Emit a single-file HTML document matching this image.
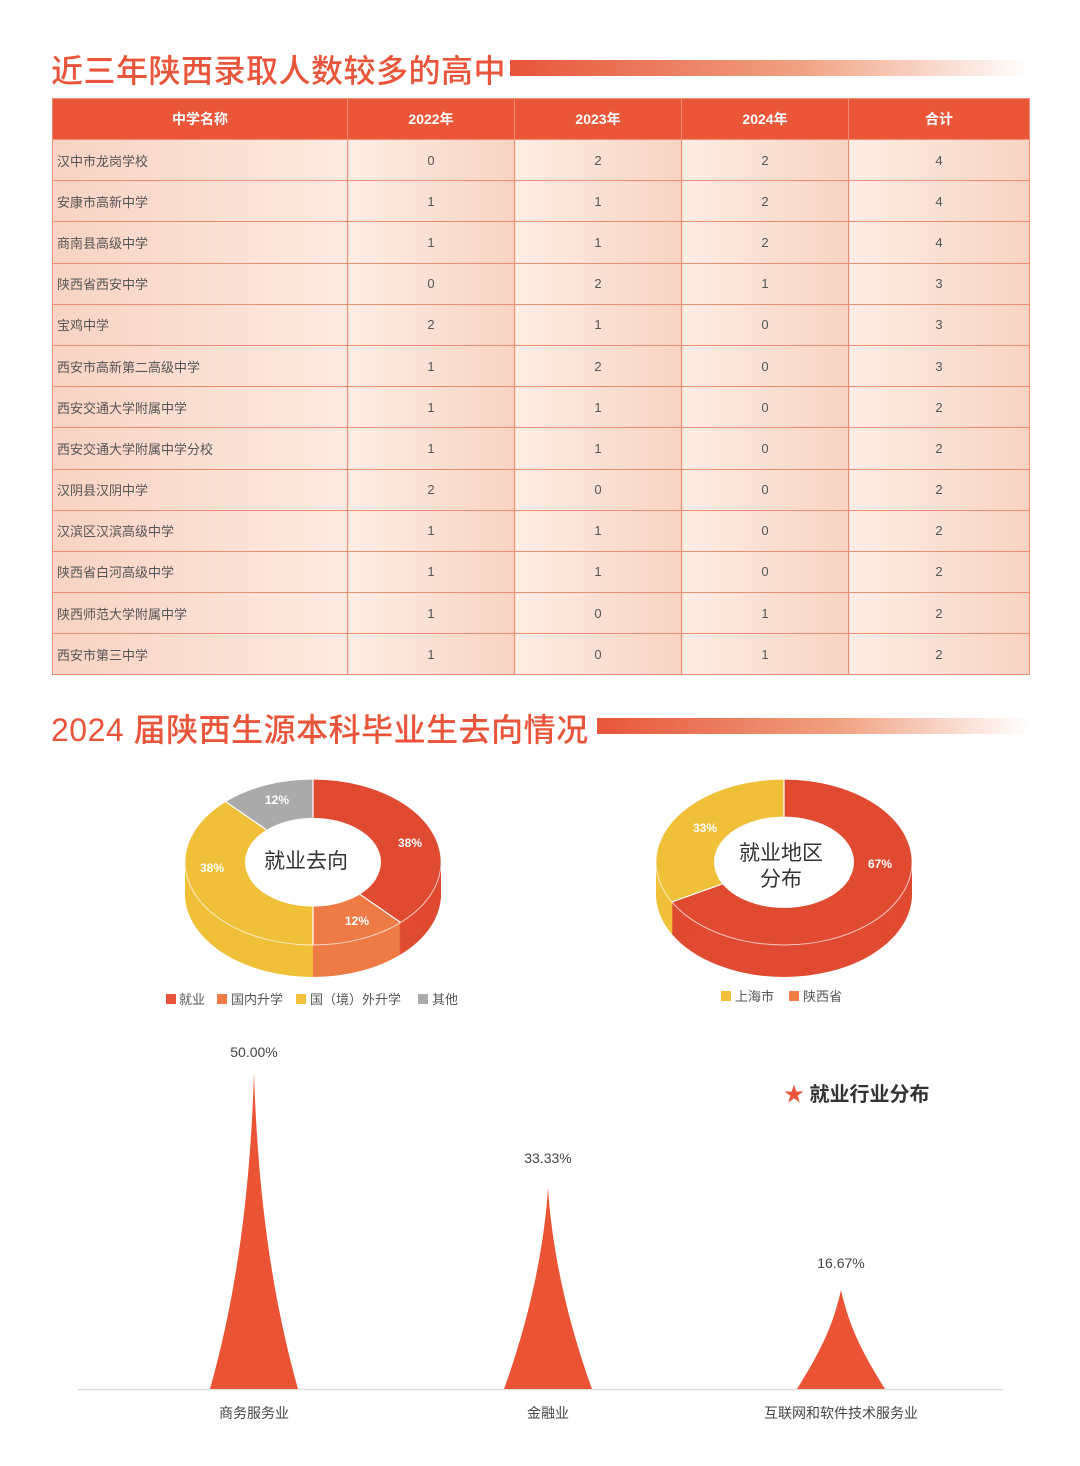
<!DOCTYPE html>
<html><head><meta charset="utf-8"><style>
body{margin:0;background:#fff;width:1080px;height:1466px;position:relative;overflow:hidden;font-family:"Liberation Sans","Noto Sans CJK SC",sans-serif;}
.t{position:absolute;color:#e8553a;font-size:32px;font-weight:500;white-space:nowrap;letter-spacing:0.5px}
.bar{position:absolute;height:16px;background:linear-gradient(90deg,#e8553a,#f0a080 55%,rgba(255,255,255,0))}
table{position:absolute;left:52px;top:98px;width:978px;border-collapse:collapse;font-size:13px;color:#555}
td,th{border:1.5px solid #ef8e72;height:40.2px;padding:0;text-align:center}
th{background:#ea5637;color:#fff;font-weight:bold;font-size:14px;height:40px}
td{background:linear-gradient(90deg,#fdede4,#f8d3c3)}
td:first-child{text-align:left;padding-left:4px;background:linear-gradient(90deg,#f8d3c3,#fdeae1)}
.lab{position:absolute;font-size:14px;color:#444;white-space:nowrap;transform:translateX(-50%)}
</style></head><body>
<div class="t" style="left:51px;top:46px">近三年陕西录取人数较多的高中</div>
<div class="bar" style="left:510px;top:60px;width:520px"></div>
<table>
<tr><th style="width:294px">中学名称</th><th style="width:166px">2022年</th><th style="width:166px">2023年</th><th style="width:166px">2024年</th><th>合计</th></tr>
<tr><td>汉中市龙岗学校</td><td>0</td><td>2</td><td>2</td><td>4</td></tr>
<tr><td>安康市高新中学</td><td>1</td><td>1</td><td>2</td><td>4</td></tr>
<tr><td>商南县高级中学</td><td>1</td><td>1</td><td>2</td><td>4</td></tr>
<tr><td>陕西省西安中学</td><td>0</td><td>2</td><td>1</td><td>3</td></tr>
<tr><td>宝鸡中学</td><td>2</td><td>1</td><td>0</td><td>3</td></tr>
<tr><td>西安市高新第二高级中学</td><td>1</td><td>2</td><td>0</td><td>3</td></tr>
<tr><td>西安交通大学附属中学</td><td>1</td><td>1</td><td>0</td><td>2</td></tr>
<tr><td>西安交通大学附属中学分校</td><td>1</td><td>1</td><td>0</td><td>2</td></tr>
<tr><td>汉阴县汉阴中学</td><td>2</td><td>0</td><td>0</td><td>2</td></tr>
<tr><td>汉滨区汉滨高级中学</td><td>1</td><td>1</td><td>0</td><td>2</td></tr>
<tr><td>陕西省白河高级中学</td><td>1</td><td>1</td><td>0</td><td>2</td></tr>
<tr><td>陕西师范大学附属中学</td><td>1</td><td>0</td><td>1</td><td>2</td></tr>
<tr><td>西安市第三中学</td><td>1</td><td>0</td><td>1</td><td>2</td></tr>
</table>
<div class="t" style="left:51px;top:705px">2024 届陕西生源本科毕业生去向情况</div>
<div class="bar" style="left:597px;top:718px;width:433px"></div>

<svg id="s" width="1080" height="1466" style="position:absolute;left:0;top:0">
<g id="d1"></g><g id="d2"></g>
<g font-family="Liberation Sans,sans-serif" font-weight="bold" font-size="12" fill="#fff" text-anchor="middle">
<text x="277" y="804">12%</text><text x="410" y="847">38%</text><text x="212" y="872">38%</text><text x="357" y="925">12%</text>
<text x="705" y="832">33%</text><text x="880" y="868">67%</text>
</g>
<g font-family="Liberation Sans,Noto Sans CJK SC,sans-serif" font-size="21" fill="#333" text-anchor="middle">
<text x="306" y="868">就业去向</text><text x="781" y="860">就业地区</text><text x="781" y="886">分布</text>
</g>
<g font-family="Liberation Sans,Noto Sans CJK SC,sans-serif" font-size="13" fill="#555">
<rect x="166" y="994" width="10" height="10" fill="#e8553a"/><text x="179" y="1004">就业</text>
<rect x="217" y="994" width="10" height="10" fill="#f07c45"/><text x="231" y="1004">国内升学</text>
<rect x="296" y="994" width="10" height="10" fill="#f2c03a"/><text x="310" y="1004">国（境）外升学</text>
<rect x="418" y="994" width="10" height="10" fill="#aaa"/><text x="432" y="1004">其他</text>
<rect x="721" y="991" width="10" height="10" fill="#f2c03a"/><text x="735" y="1001">上海市</text>
<rect x="789" y="991" width="10" height="10" fill="#f07c45"/><text x="803" y="1001">陕西省</text>
</g>
<line x1="78" y1="1389.5" x2="1003" y2="1389.5" stroke="#ddd" stroke-width="1.5"/>
<g fill="#ea5434">
<path d="M210 1389 C235 1300 250 1200 254 1073 C258 1200 273 1300 298 1389Z"/>
<path d="M504 1389 C529 1320 544 1250 548 1188 C552 1250 567 1320 592 1389Z"/>
<path d="M797 1389 C818 1355 832 1330 841 1290 C850 1330 864 1355 885 1389Z"/>
</g>
<g font-family="Liberation Sans,sans-serif" font-size="14" fill="#444" text-anchor="middle">
<text x="254" y="1057">50.00%</text><text x="548" y="1163">33.33%</text><text x="841" y="1268">16.67%</text>
</g>
<text x="784" y="1101" font-family="Liberation Sans,Noto Sans CJK SC,sans-serif" font-size="20" font-weight="bold" fill="#333"><tspan fill="#e8553a">★</tspan> 就业行业分布</text>
</svg>
<div class="lab" style="left:254px;top:1403px">商务服务业</div>
<div class="lab" style="left:548px;top:1403px">金融业</div>
<div class="lab" style="left:841px;top:1403px">互联网和软件技术服务业</div>
<script>
var NS="http://www.w3.org/2000/svg";
function donut(g,cx,cy,rx,ry,ri,segs,depth){
 var r=(rx+ri)/2,w=rx-ri,C=2*Math.PI*r,sy=ry/rx;
 for(var d=depth;d>=0;d-=1.5){
  var off=0;
  segs.forEach(function(s){
   var c=document.createElementNS(NS,"circle");
   c.setAttribute("r",r);c.setAttribute("fill","none");
   c.setAttribute("stroke",d>0?s[2]:s[1]);c.setAttribute("stroke-width",w);
   var L=s[0]*C;
   c.setAttribute("stroke-dasharray",L+" "+(C-L));
   c.setAttribute("stroke-dashoffset",-off);
   c.setAttribute("transform","translate("+cx+","+(cy+d)+") scale(1,"+sy+") rotate(-90)");
   g.appendChild(c);off+=L;
  });
 }
 var e=document.createElementNS(NS,"ellipse");
 e.setAttribute("cx",cx);e.setAttribute("cy",cy);e.setAttribute("rx",ri);e.setAttribute("ry",ri*sy);
 e.setAttribute("fill","#fff");g.appendChild(e);
 // separators
 var a=0;
 segs.forEach(function(s){
  var ang=-Math.PI/2+a*2*Math.PI;
  var l=document.createElementNS(NS,"line");
  l.setAttribute("x1",cx+ri*Math.cos(ang));l.setAttribute("y1",cy+ri*sy*Math.sin(ang));
  l.setAttribute("x2",cx+rx*Math.cos(ang));l.setAttribute("y2",cy+ry*Math.sin(ang));
  l.setAttribute("stroke","#fff");l.setAttribute("stroke-width","1.2");g.appendChild(l);
  a+=s[0];
 });
 var o=document.createElementNS(NS,"ellipse");
 o.setAttribute("cx",cx);o.setAttribute("cy",cy);o.setAttribute("rx",rx);o.setAttribute("ry",ry);
 o.setAttribute("fill","none");o.setAttribute("stroke","#fff");o.setAttribute("stroke-opacity","0.7");o.setAttribute("stroke-width","1");g.appendChild(o);
}
donut(document.getElementById("d1"),313,862,128,83,68,[[.38,"#e8553a","#e04a30"],[.12,"#f07c45","#ee7a45"],[.38,"#f2c03a","#f0c039"],[.12,"#aaaaab","#aaa"]],32);
donut(document.getElementById("d2"),784,862,128,83,70,[[.67,"#e8553a","#e04a30"],[.33,"#f2c03a","#f0c039"]],32);
</script>
</body></html>
